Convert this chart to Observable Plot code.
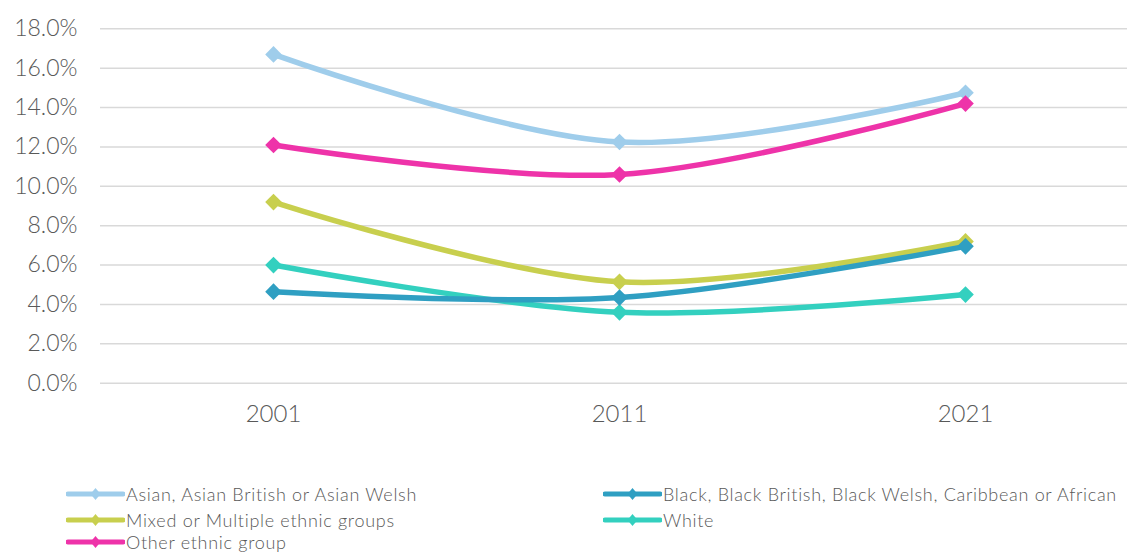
<!DOCTYPE html>
<html>
<head>
<meta charset="utf-8">
<script src="https://cdn.jsdelivr.net/npm/d3@7"></script>
<script src="https://cdn.jsdelivr.net/npm/@observablehq/plot@0.6"></script>
<style>
  body { margin: 0; background: #fff; font-family: Lato, "Open Sans", sans-serif; }
  #chart { position: absolute; left: 0; top: 0; }
  #legend { position: absolute; left: 0; top: 481px; width: 1127px; height: 73px; font-family: Lato, "Open Sans", sans-serif; font-weight: 300; font-size: 18px; letter-spacing: 0.7px; color: #595959; }
  .item { position: absolute; display: flex; align-items: center; height: 26px; white-space: nowrap; }
  .item svg { margin-right: 1px; flex: none; }
</style>
</head>
<body>
<div id="chart"></div>
<div id="legend"></div>
<script>
const years = ["2001", "2011", "2021"];
const seriesNames = [
  "Asian, Asian British or Asian Welsh",
  "Black, Black British, Black Welsh, Caribbean or African",
  "Mixed or Multiple ethnic groups",
  "White",
  "Other ethnic group"
];
const asian = [16.7, 12.25, 14.75];
const black = [4.65, 4.35, 6.95];
const mixed = [9.2, 5.15, 7.2];
const white = [6.0, 3.6, 4.5];
const other = [12.1, 10.6, 14.2];
const colors = ["#9fcdeb", "#2f9fc2", "#c8cf4e", "#33d0bf", "#ee33a9"];
const yTicks = [0, 2, 4, 6, 8, 10, 12, 14, 16, 18];

const valuesBySeries = [asian, black, mixed, white, other];
const data = [];
const drawOrder = [0, 4, 2, 3, 1];
for (const si of drawOrder) {
  years.forEach((yr, i) => data.push({series: seriesNames[si], year: yr, value: valuesBySeries[si][i]}));
}

const chart = Plot.plot({
  width: 1127,
  height: 450,
  marginTop: 28,
  marginBottom: 67,
  marginLeft: 100,
  marginRight: 0,
  style: { fontFamily: "Lato, 'Open Sans', sans-serif", fontWeight: 300, color: "#595959", background: "#fff" },
  x: { type: "point", domain: years, range: [100, 1138], padding: 0.5 },
  y: { domain: [0, 18], range: [382.7, 28.3] },
  color: { domain: seriesNames, range: colors },
  marks: [
    Plot.gridY(yTicks, { stroke: "#d9d9d9", strokeOpacity: 1, strokeWidth: 1.5 }),
    Plot.axisY(yTicks, { tickSize: 0, tickPadding: 23, tickFormat: d => d.toFixed(1) + "%", fontSize: 23, fill: "#595959", label: null }),
    Plot.axisX({ tickSize: 0, tickPadding: 21, fontSize: 24, fill: "#595959", label: null }),
    Plot.line(data, { x: "year", y: "value", z: "series", stroke: "series", strokeWidth: 5.5, curve: "catmull-rom" }),
    Plot.dot(data, { x: "year", y: "value", fill: "series", symbol: "diamond2", r: 7.5, stroke: null })
  ]
});
document.getElementById("chart").appendChild(chart);

const legend = document.getElementById("legend");
const positions = [
  { left: 66, top: 0 },
  { left: 603, top: 0 },
  { left: 66, top: 26 },
  { left: 603, top: 26 },
  { left: 66, top: 48 }
];
seriesNames.forEach((name, i) => {
  const div = document.createElement("div");
  div.className = "item";
  div.style.left = positions[i].left + "px";
  div.style.top = positions[i].top + "px";
  const c = colors[i];
  div.innerHTML = `<svg width="59" height="14"><line x1="2" x2="57" y1="7" y2="7" stroke="${c}" stroke-width="5" stroke-linecap="round"/><path d="M29.5 1 L34.5 7 L29.5 13 L24.5 7 Z" fill="${c}"/></svg><span>${name}</span>`;
  legend.appendChild(div);
});
</script>
</body>
</html>
